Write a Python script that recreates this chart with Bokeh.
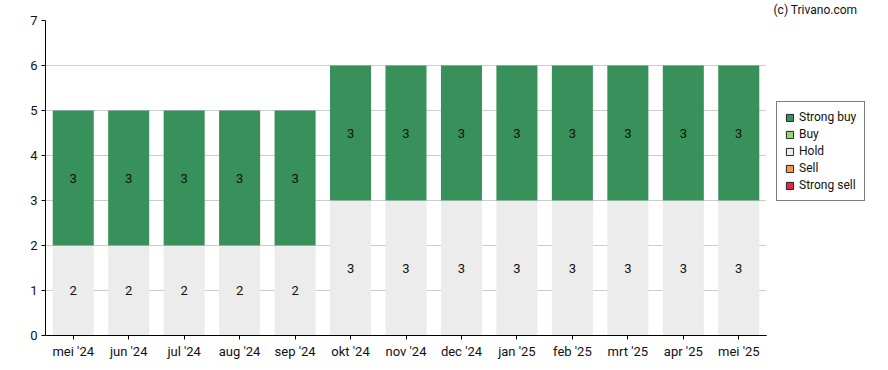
from bokeh.plotting import figure
from bokeh.layouts import row
from bokeh.models import ColumnDataSource, Legend, LegendItem, Title, FactorRange, SingleIntervalTicker, Range1d
from bokeh.embed import file_html
from bokeh.resources import INLINE
from bokeh.core.properties import value

months = ["mei '24", "jun '24", "jul '24", "aug '24", "sep '24", "okt '24", "nov '24",
          "dec '24", "jan '25", "feb '25", "mrt '25", "apr '25", "mei '25"]
strong_sell = [0] * 13
sell = [0] * 13
hold = [2, 2, 2, 2, 2, 3, 3, 3, 3, 3, 3, 3, 3]
buy = [0] * 13
strong_buy = [3] * 13

series_names = ["Strong sell", "Sell", "Hold", "Buy", "Strong buy"]
series_vals = [strong_sell, sell, hold, buy, strong_buy]
colors = {"Strong buy": "#38915a", "Buy": "#9ad574", "Hold": "#ececec",
          "Sell": "#f5964f", "Strong sell": "#e8253f"}

FONT = "Roboto"
H = 362
W_MAIN = 766
W_SIDE = 114

p = figure(x_range=FactorRange(*months, range_padding=0), y_range=(0, 7),
           width=W_MAIN, height=H, output_backend="svg", toolbar_location=None,
           min_border_left=45, min_border_right=0, min_border_top=20,
           min_border_bottom=H - 335)
p.outline_line_color = None

bottoms = [0] * 13
lx, ly, lt = [], [], []
for name, vals in zip(series_names, series_vals):
    tops = [b + v for b, v in zip(bottoms, vals)]
    src = ColumnDataSource(dict(x=months, bottom=bottoms, top=tops))
    p.vbar(x="x", bottom="bottom", top="top", width=0.74, source=src,
           fill_color=colors[name], line_color=None)
    for m, b, v in zip(months, bottoms, vals):
        if v > 0:
            lx.append(m); ly.append(b + v / 2); lt.append(str(v))
    bottoms = tops

p.text(x=lx, y=ly, text=lt, text_align="center", text_baseline="middle",
       text_font=value(FONT), text_font_size="13px", text_color="#111111")

p.yaxis.ticker = SingleIntervalTicker(interval=1)
p.ygrid.grid_line_color = "#cccccc"
p.xgrid.grid_line_color = None
for ax in (p.xaxis, p.yaxis):
    ax.axis_line_color = "#000000"
    ax.major_tick_line_color = "#000000"
    ax.major_tick_out = 4
    ax.major_tick_in = 0
    ax.minor_tick_line_color = None
    ax.major_label_text_font = FONT
    ax.major_label_text_font_size = "13px"
    ax.major_label_text_color = "#111111"
    ax.major_label_standoff = 4

# side panel holding the legend and the watermark
s = figure(width=W_SIDE, height=H, output_backend="svg", toolbar_location=None,
           x_range=Range1d(0, 1), y_range=Range1d(0, 1),
           x_axis_location=None, y_axis_location=None,
           min_border_left=0, min_border_right=0, min_border_top=20, min_border_bottom=H - 335)
s.grid.visible = False
s.outline_line_color = None

items = []
for name in ["Strong buy", "Buy", "Hold", "Sell", "Strong sell"]:
    r = s.vbar(x=[-10], top=[-10], width=0.5, fill_color=colors[name], line_color="#222222")
    items.append(LegendItem(label=name, renderers=[r]))
legend = Legend(items=items, location=(10, H - 228), glyph_width=9, glyph_height=9,
                label_height=14, spacing=3, label_text_font=FONT, label_text_font_size="12px",
                label_standoff=5, padding=8, margin=0, border_line_color="#000000",
                border_line_width=1, background_fill_alpha=1, label_text_color="#111111")
s.add_layout(legend, "center")

s.add_layout(Title(text="(c) Trivano.com", align="left", offset=7, text_font=FONT,
                   text_font_size="12px", text_font_style="normal", text_color="#111111",
                   standoff=4, vertical_align="top"), "above")

layout = row(p, s)
open("out.html", "w").write(file_html(layout, INLINE))
